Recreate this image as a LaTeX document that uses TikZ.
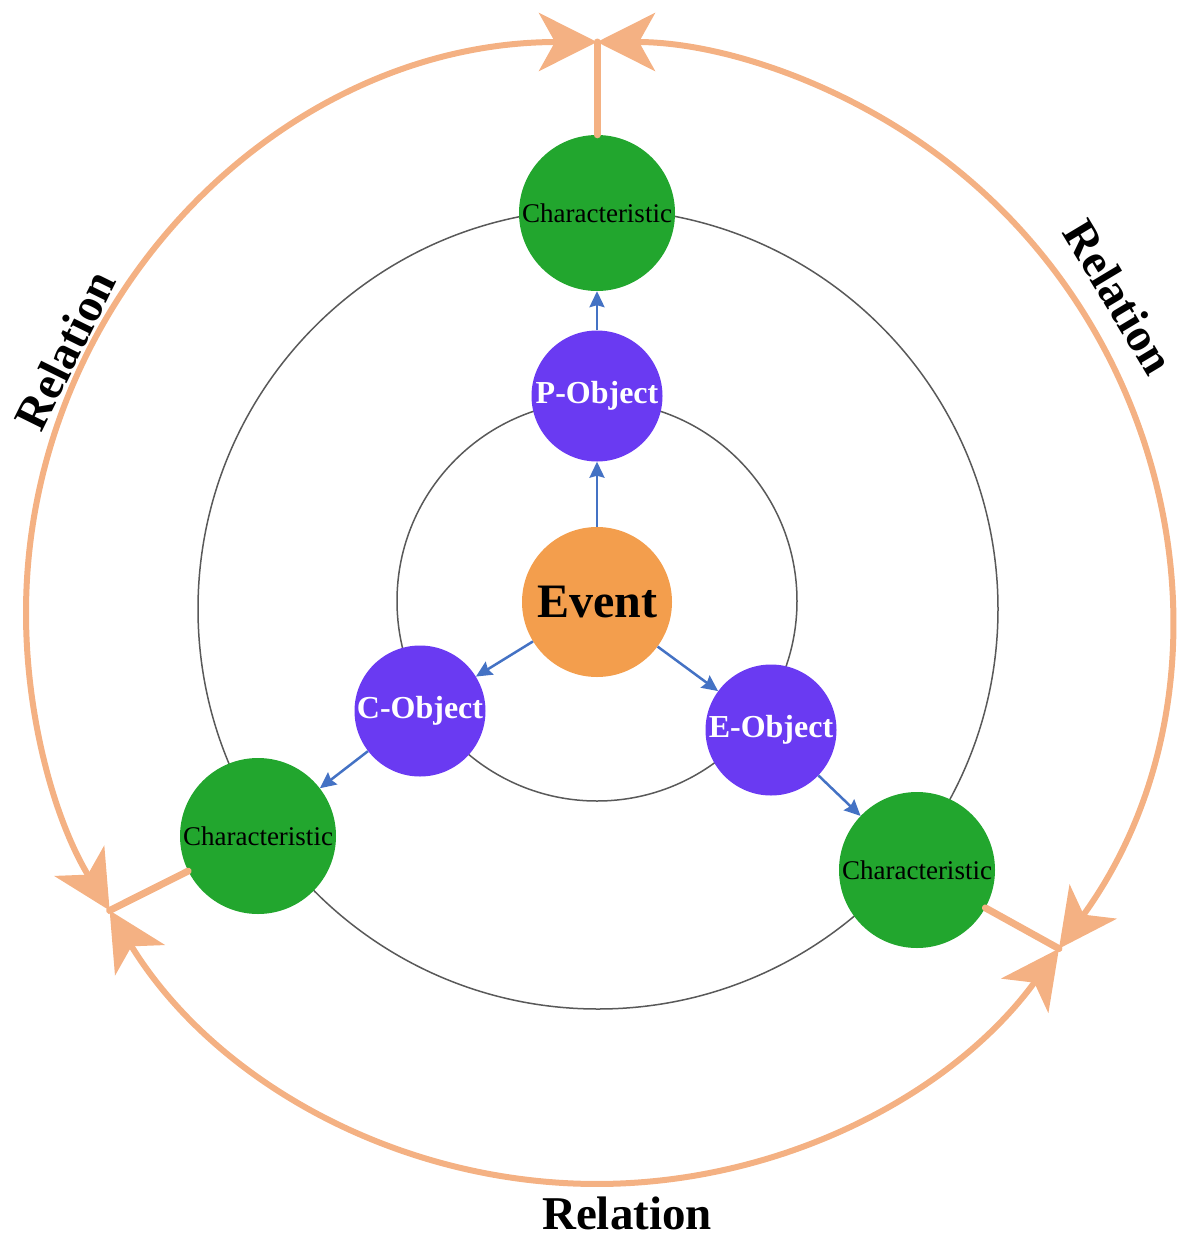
\documentclass[tikz,border=0pt]{standalone}
\usepackage{fontspec}
\setmainfont{Liberation Serif}
\usetikzlibrary{arrows.meta,calc}

\definecolor{relorange}{HTML}{F4B183}
\definecolor{chargreen}{HTML}{22A62E}
\definecolor{objpurple}{HTML}{6A3AF2}
\definecolor{eventorange}{HTML}{F39E4D}
\definecolor{flowblue}{HTML}{4472C4}
\definecolor{ringgray}{HTML}{595959}

\tikzset{
  ring/.style={draw=ringgray, line width=1.5pt},
  charnode/.style={circle, fill=chargreen, minimum size=156pt, inner sep=0pt,
    font=\fontsize{27}{30}\selectfont, text=black},
  objnode/.style={circle, fill=objpurple, minimum size=131pt, inner sep=0pt,
    font=\fontsize{32}{36}\selectfont\bfseries, text=white},
  eventnode/.style={circle, fill=eventorange, minimum size=150pt, inner sep=0pt,
    font=\fontsize{48}{52}\selectfont\bfseries, text=black},
  relarc/.style={draw=relorange, line width=6pt,
    {Stealth[length=58pt,width=58pt,inset=16pt]}-{Stealth[length=58pt,width=58pt,inset=16pt]}},
  spoke/.style={draw=relorange, line width=7pt, line cap=round},
  flow/.style={draw=flowblue, line width=2.5pt,
    -{Stealth[length=16pt,width=15pt,inset=2pt]}},
  rel/.style={font=\fontsize{47}{52}\selectfont\bfseries, text=black, inner sep=0pt}
}

\begin{document}
\begin{tikzpicture}[x=1pt,y=1pt]
\useasboundingbox (0,0) rectangle (1180,-1237);

% centres of the rings
\coordinate (O) at (597,-613);
\coordinate (Oin) at (597,-601);
\coordinate (Omid) at (598,-609);

% thin grey rings
\draw[ring] (Oin) circle[radius=200];
\draw[ring] (Omid) circle[radius=400];

% meeting points on the outer relation ring
\coordinate (mT) at ($(O)+(90:571)$);
\coordinate (mL) at ($(O)+(211.4:571)$);
\coordinate (mR) at ($(O)+(324:571)$);

% outer relation arcs, arrow at both ends
\draw[relarc] (mT) arc[start angle=90, end angle=211.4, radius=571];
\draw[relarc] (mL) arc[start angle=211.4, end angle=324, radius=571];
\draw[relarc] (mR) arc[start angle=324, end angle=450, radius=571];

% nodes
\node[charnode] (cP) at (597,-213) {Characteristic};
\node[charnode] (cC) at (258,-836) {Characteristic};
\node[charnode] (cE) at (917,-870) {Characteristic};
\node[objnode] (oP) at (597,-396) {P-Object};
\node[objnode] (oC) at (420,-711) {C-Object};
\node[objnode] (oE) at (771,-730) {E-Object};
\node[eventnode] (ev) at (597,-602) {Event};

% spokes from characteristics to the relation ring
\draw[spoke] (cP) -- (mT);
\draw[spoke] (cC) -- (mL);
\draw[spoke] (cE) -- (mR);

% event -> objects -> characteristics
\draw[flow] (ev) -- (oP);
\draw[flow] (ev) -- (oC);
\draw[flow] (ev) -- (oE);
\draw[flow] (oP) -- (cP);
\draw[flow] (oC) -- (cC);
\draw[flow] (oE) -- (cE);

% relation labels
\node[rel, rotate=63.7] (rL) at (65,-350) {Relation};
\node[rel, rotate=-59] (rR) at (1119,-297) {Relation};
\node[rel] (rB) at (627,-1213) {Relation};
\end{tikzpicture}
\end{document}
